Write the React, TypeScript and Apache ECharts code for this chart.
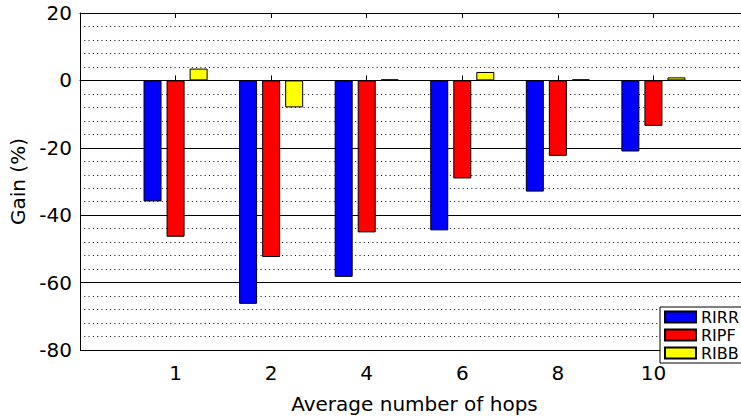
import React, { useEffect, useRef } from "react";
import * as echarts from "echarts";

// Average number of hops (x categories)
const HOPS = ["1", "2", "4", "6", "8", "10"];

// Gain (%) per scheme
const RIRR = [-35.9, -66.3, -58.3, -44.5, -33.0, -21.1];
const RIPF = [-46.4, -52.4, -45.1, -29.1, -22.4, -13.5];
const RIBB = [3.5, -8.0, 0.3, 2.5, 0.3, 0.9];

const FONT = "'DejaVu Sans', 'Liberation Sans', Arial, sans-serif";

const toPoints = (vals: number[]) => vals.map((v, i) => [i + 1, v]);

export default function App() {
  const ref = useRef<HTMLDivElement>(null);

  useEffect(() => {
    document.body.style.margin = "0";
    if (!ref.current) return;
    const chart = echarts.init(ref.current, null, { renderer: "svg" });

    const barBase = {
      type: "bar" as const,
      barWidth: 18,
      barGap: "28%",
      xAxisIndex: 0,
    };

    const hopLabel = (v: number) => {
      const idx = Math.round(v) - 1;
      return idx >= 0 && idx < HOPS.length ? HOPS[idx] : "";
    };

    chart.setOption({
      animation: false,
      backgroundColor: "#ffffff",
      textStyle: { fontFamily: FONT },
      grid: {
        left: 80,
        top: 13,
        width: 669,
        height: 337,
        containLabel: false,
        outerBoundsMode: "none",
      },
      xAxis: [
        {
          type: "value",
          min: 0,
          max: 7,
          interval: 1,
          position: "bottom",
          name: "Average number of hops",
          nameLocation: "middle",
          nameGap: 44,
          nameTextStyle: { fontSize: 20, color: "#000", fontFamily: FONT },
          axisLine: { show: true, lineStyle: { color: "#000", width: 1 } },
          axisTick: { show: true, inside: true, length: 5, lineStyle: { color: "#000" } },
          axisLabel: {
            fontSize: 20,
            color: "#000",
            margin: 13,
            fontFamily: FONT,
            formatter: hopLabel,
          },
          splitLine: { show: false },
        },
        {
          type: "value",
          min: 0,
          max: 7,
          interval: 1,
          position: "top",
          axisLine: { show: true, lineStyle: { color: "#000", width: 1 } },
          axisTick: { show: true, inside: true, length: 5, lineStyle: { color: "#000" } },
          axisLabel: { show: false },
          splitLine: { show: false },
        },
      ],
      yAxis: {
        type: "value",
        min: -80,
        max: 20,
        interval: 20,
        name: "Gain (%)",
        nameLocation: "middle",
        nameGap: 48,
        nameTextStyle: { fontSize: 20, color: "#000", fontFamily: FONT },
        axisLine: { show: true, lineStyle: { color: "#000", width: 1 } },
        axisTick: { show: false },
        axisLabel: { fontSize: 20, color: "#000", margin: 8, fontFamily: FONT },
        splitLine: { show: true, lineStyle: { color: "#000", width: 1, type: "solid" } },
        minorTick: { show: false, splitNumber: 5 },
        minorSplitLine: {
          show: true,
          lineStyle: { color: "#000", width: 1, type: [1, 3.3] },
        },
      },
      legend: {
        orient: "vertical",
        left: 660,
        top: 307,
        padding: [2, 4, 2, 4],
        itemWidth: 31,
        itemHeight: 11,
        itemGap: 2,
        icon: "rect",
        borderColor: "#000",
        borderWidth: 1,
        backgroundColor: "#fff",
        textStyle: { fontSize: 16, color: "#000", lineHeight: 16, fontFamily: FONT },
        data: ["RIRR", "RIPF", "RIBB"],
      },
      series: [
        {
          ...barBase,
          name: "RIRR",
          data: toPoints(RIRR),
          itemStyle: { color: "#0000ff", borderColor: "#000", borderWidth: 1 },
        },
        {
          ...barBase,
          name: "RIPF",
          data: toPoints(RIPF),
          itemStyle: { color: "#ff0000", borderColor: "#000", borderWidth: 1 },
        },
        {
          ...barBase,
          name: "RIBB",
          data: toPoints(RIBB),
          itemStyle: { color: "#ffff00", borderColor: "#000", borderWidth: 1 },
        },
      ],
    });

    return () => chart.dispose();
  }, []);

  return <div ref={ref} style={{ width: 741, height: 418 }} />;
}
